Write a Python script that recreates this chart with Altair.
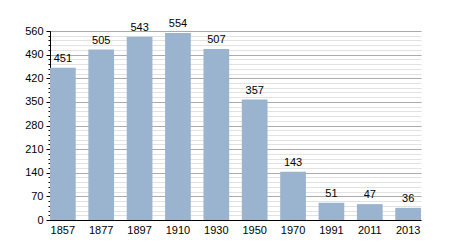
import altair as alt
import pandas as pd

years = ["1857", "1877", "1897", "1910", "1930", "1950", "1970", "1991", "2011", "2013"]
population = [451, 505, 543, 554, 507, 357, 143, 51, 47, 36]

df = pd.DataFrame({"year": years, "pop": population})

FONT = "Liberation Sans"
major_ticks = [0, 70, 140, 210, 280, 350, 420, 490, 560]
minor_ticks = [v for v in range(0, 561, 14)]

x_enc = alt.X("year:N", sort=years, title=None,
              scale=alt.Scale(paddingInner=0.33, paddingOuter=0.0),
              axis=alt.Axis(labelAngle=0, ticks=False, domainColor="#000", labelFont=FONT,
                            labelFontSize=11, labelColor="#000", labelPadding=4))

y_scale = alt.Scale(domain=[0, 560], nice=False)

minor = alt.Chart(df).mark_bar(color="#9ab3cf", opacity=0).encode(
    x=x_enc,
    y=alt.Y("pop:Q", scale=y_scale, title=None,
            axis=alt.Axis(orient="left", values=minor_ticks, labels=False, tickSize=2,
                          tickColor="#000", domain=False, grid=True, gridColor="#e2e2e2",
                          gridWidth=1)),
)

bars = alt.Chart(df).mark_bar(color="#9ab3cf").encode(
    x=x_enc,
    y=alt.Y("pop:Q", scale=y_scale, title=None,
            axis=alt.Axis(orient="left", values=major_ticks, tickSize=4, tickColor="#000",
                          domainColor="#000", grid=True, gridColor="#ababab", labelFont=FONT,
                          labelFontSize=11, labelColor="#000", labelPadding=3)),
)

labels = alt.Chart(df).mark_text(dy=-9, font=FONT, fontSize=11, color="#000").encode(
    x=x_enc,
    y=alt.Y("pop:Q", scale=y_scale, axis=None),
    text="pop:Q",
)

chart = alt.layer(minor, bars, labels).resolve_axis(y="independent").properties(
    width=371, height=189,
    autosize=alt.AutoSizeParams(type="none"),
    padding={"left": 50, "top": 31, "right": 29, "bottom": 30},
).configure_view(stroke=None)

chart.save("out.html", embed_options={"renderer": "svg", "actions": False})
